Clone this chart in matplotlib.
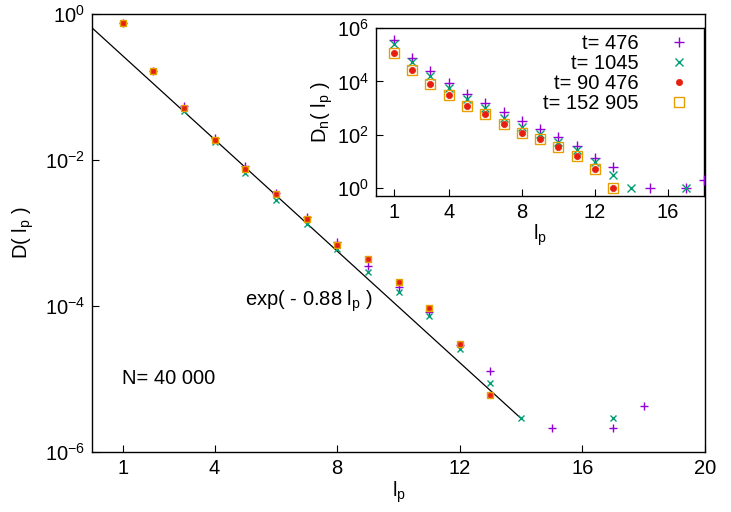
import numpy as np
import matplotlib
matplotlib.use("Agg")
import matplotlib.pyplot as plt
from matplotlib.ticker import NullLocator

plt.rcParams['font.family'] = ['Liberation Sans', 'DejaVu Sans']
plt.rcParams['mathtext.fontset'] = 'custom'
plt.rcParams['mathtext.rm'] = 'Liberation Sans'
plt.rcParams['mathtext.it'] = 'Liberation Sans:italic'
plt.rcParams['mathtext.default'] = 'regular'

FS = 14.5

# colours / labels of the four snapshots
labels = ["t= 476", "t= 1045", "t= 90 476", "t= 152 905"]
colors = ["#9400D3", "#009E73", "#E51E10", "#E69F00"]

# main panel: normalised distribution D(l_p)
lp_476 = [1, 2, 3, 4, 5, 6, 7, 8, 9, 10, 11, 12, 13, 15, 17, 18]
D_476 = [0.745, 0.166, 0.055, 0.020, 0.0083, 0.0035, 0.00166, 7.6e-4, 3.5e-4,
         1.84e-4, 8.3e-5, 2.9e-5, 1.29e-5, 2.1e-6, 2.1e-6, 4.3e-6]
lp_1045 = [1, 2, 3, 4, 5, 6, 7, 8, 9, 10, 11, 12, 13, 14, 17]
D_1045 = [0.745, 0.166, 0.047, 0.0175, 0.0066, 0.00283, 0.00133, 6.0e-4, 2.9e-4,
          1.55e-4, 7.2e-5, 2.57e-5, 8.7e-6, 2.9e-6, 2.9e-6]
lp_90476 = [1, 2, 3, 4, 5, 6, 7, 8, 9, 10, 11, 12, 13]
D_90476 = [0.745, 0.166, 0.051, 0.0188, 0.0075, 0.0034, 0.00156, 6.9e-4, 4.4e-4,
           2.1e-4, 9.5e-5, 3.0e-5, 6.0e-6]
lp_152905 = [1, 2, 3, 4, 5, 6, 7, 8, 9, 10, 11, 12, 13]
D_152905 = [0.745, 0.166, 0.051, 0.0188, 0.0075, 0.0034, 0.00156, 6.9e-4, 4.4e-4,
            2.1e-4, 9.5e-5, 3.0e-5, 6.0e-6]

# inset: raw counts D_n(l_p)
Dn_476 = [355000, 76000, 24500, 8700, 3300, 1500, 710, 340, 160, 83, 37, 13, 6, 1, 1, 2]
Dn_1045 = [257000, 52500, 16600, 5600, 2240, 1000, 440, 200, 107, 55, 26, 9, 3, 1, 1]
Dn_90476 = [123000, 26300, 7900, 3160, 1200, 590, 250, 112, 69, 35, 16, 5, 1]
Dn_152905 = [123000, 26300, 7900, 3160, 1200, 590, 250, 112, 69, 35, 16, 5, 1]

# fit exp(-0.88 l_p)
fit_amp = 0.645
fit_rate = 0.88
fit_lmax = 14

fig = plt.figure(figsize=(7.31, 5.12), dpi=100)
ax = fig.add_axes([0.1259, 0.1172, 0.9644 - 0.1259, 0.9727 - 0.1172])

xs = [lp_476, lp_1045, lp_90476, lp_152905]
main_y = [D_476, D_1045, D_90476, D_152905]
inset_y = [Dn_476, Dn_1045, Dn_90476, Dn_152905]


def draw_series(a, ys, sizes):
    # sizes: (+, x, circle, square)
    a.plot(xs[0], ys[0], ls='none', marker='+', ms=sizes[0], mec=colors[0],
           mew=1.0, label=labels[0], zorder=3)
    a.plot(xs[1], ys[1], ls='none', marker='x', ms=sizes[1], mec=colors[1],
           mew=1.0, label=labels[1], zorder=4)
    a.plot(xs[2], ys[2], ls='none', marker='o', ms=sizes[2], mfc=colors[2],
           mec=colors[2], mew=0.5, label=labels[2], zorder=5)
    a.plot(xs[3], ys[3], ls='none', marker='s', ms=sizes[3], mfc='none',
           mec=colors[3], mew=1.0, label=labels[3], zorder=6)


draw_series(ax, main_y, (6.0, 5.0, 3.8, 5.0))
lfit = np.linspace(0, fit_lmax, 50)
ax.plot(lfit, fit_amp * np.exp(-fit_rate * lfit), color='black', lw=0.9, zorder=2)

ax.set_yscale('log')
ax.set_xlim(0, 20)
ax.set_ylim(1e-6, 1)
ax.set_xticks([1, 4, 8, 12, 16, 20])
ax.set_yticks([1e-6, 1e-4, 1e-2, 1])
ax.set_yticklabels(['$10^{-6}$', '$10^{-4}$', '$10^{-2}$', '$10^{0}$'])
ax.yaxis.set_minor_locator(NullLocator())
ax.tick_params(direction='in', length=5, labelsize=FS, width=0.8, pad=5)
ax.set_xlabel('$l_p$', fontsize=FS, labelpad=1)
ax.set_ylabel('D( $l_p$ )', fontsize=FS, labelpad=6)
ax.text(5.0, 1.15e-4, 'exp( - 0.88 $l_p$ )', fontsize=FS, ha='left', va='center')
ax.text(0.97, 1.0e-5, 'N= 40 000', fontsize=FS, ha='left', va='center')

# inset
axi = fig.add_axes([0.514, 0.617, 0.9635 - 0.514, 0.9447 - 0.617])
draw_series(axi, inset_y, (6.5, 5.5, 4.5, 6.5))
axi.set_yscale('log')
axi.set_xlim(0, 18)
axi.set_ylim(10 ** -0.31, 1e6)
axi.set_xticks([1, 4, 8, 12, 16])
axi.set_yticks([1, 1e2, 1e4, 1e6])
axi.set_yticklabels(['$10^{0}$', '$10^{2}$', '$10^{4}$', '$10^{6}$'])
axi.yaxis.set_minor_locator(NullLocator())
axi.tick_params(direction='in', length=5, labelsize=FS, width=0.8, pad=5)
axi.set_xlabel('$l_p$', fontsize=FS, labelpad=0)
axi.set_ylabel('$D_n$( $l_p$ )', fontsize=FS, labelpad=1)
axi.legend(loc='upper right', frameon=False, markerfirst=False, fontsize=FS,
           handlelength=1.0, handletextpad=1.5, labelspacing=0.05,
           borderaxespad=0.1, bbox_to_anchor=(0.985, 1.025))

for a in (ax, axi):
    for sp in a.spines.values():
        sp.set_linewidth(1.0)

fig.savefig('out.png', dpi=100)
